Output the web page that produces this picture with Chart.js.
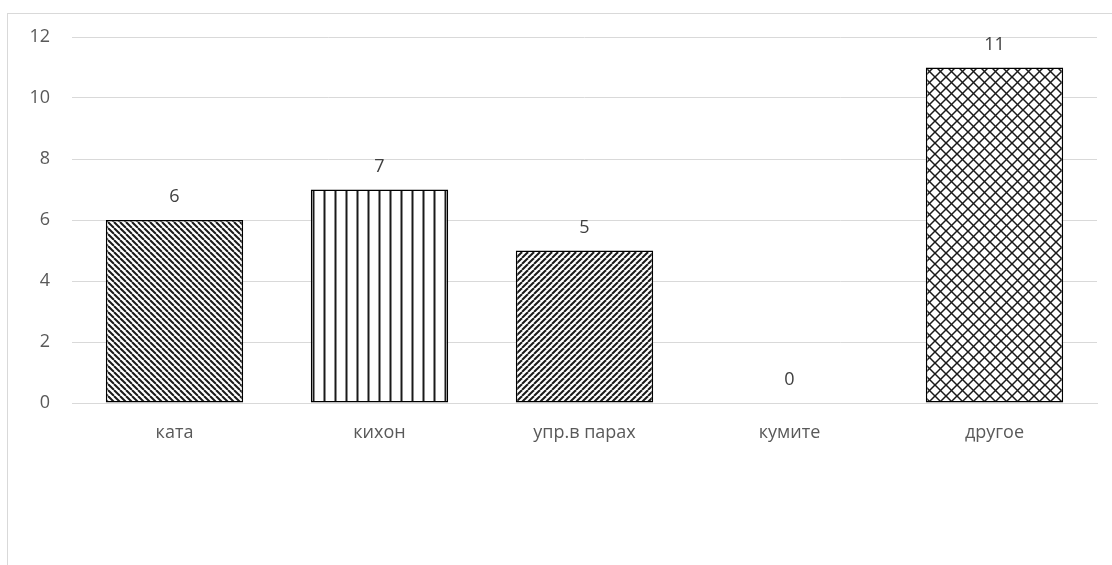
<!DOCTYPE html>
<html>
<head>
<meta charset="utf-8">
<script src="https://cdn.jsdelivr.net/npm/chart.js@4/dist/chart.umd.min.js"></script>
<style>
  html, body { margin: 0; padding: 0; background: #ffffff; }
  #wrap { position: relative; width: 1112px; height: 565px; overflow: hidden; }
  #frame { position: absolute; left: 7px; top: 13px; width: 1200px; height: 700px;
           border-left: 1px solid #d9d9d9; border-top: 1px solid #d9d9d9; }
  canvas { position: absolute; left: 0; top: 0; }
</style>
</head>
<body>
<div id="wrap">
  <div id="frame"></div>
  <canvas id="chart" width="1112" height="565"></canvas>
</div>
<script>
// Categories and values
const categories = ['ката', 'кихон', 'упр.в парах', 'кумите', 'другое'];
const values = [6, 7, 5, 0, 11];
const yTicks = [0, 2, 4, 6, 8, 10, 12];

const FONT = '"Open Sans", Lato, sans-serif';

// Hatch fills for the bars
function makeTile(size, draw) {
  const c = document.createElement('canvas');
  c.width = size; c.height = size;
  const g = c.getContext('2d');
  g.fillStyle = '#ffffff';
  g.fillRect(0, 0, size, size);
  g.strokeStyle = '#1a1a1a';
  draw(g, size);
  return g.createPattern(c, 'repeat');
}
function downLines(g, s) {
  for (const k of [-s, 0, s]) { g.beginPath(); g.moveTo(k, 0); g.lineTo(k + s, s); g.stroke(); }
}
function upLines(g, s) {
  for (const k of [-s, 0, s]) { g.beginPath(); g.moveTo(k, s); g.lineTo(k + s, 0); g.stroke(); }
}
const fills = [
  makeTile(6, (g, s) => { g.lineWidth = 2; downLines(g, s); }),
  makeTile(11, (g, s) => { g.lineWidth = 2; g.beginPath(); g.moveTo(s / 2, 0); g.lineTo(s / 2, s); g.stroke(); }),
  makeTile(6, (g, s) => { g.lineWidth = 2; upLines(g, s); }),
  makeTile(6, (g, s) => { g.lineWidth = 2; upLines(g, s); }),
  makeTile(11, (g, s) => { g.lineWidth = 1.5; downLines(g, s); upLines(g, s); })
];

// Value labels above each bar
const valueLabels = {
  id: 'valueLabels',
  afterDatasetsDraw(chart) {
    const ctx = chart.ctx;
    const meta = chart.getDatasetMeta(0);
    ctx.save();
    ctx.font = '18px ' + FONT;
    ctx.fillStyle = '#404040';
    ctx.textAlign = 'center';
    ctx.textBaseline = 'middle';
    meta.data.forEach((bar, i) => {
      ctx.fillText(String(values[i]), bar.x, bar.y - 23);
    });
    ctx.restore();
  }
};

new Chart(document.getElementById('chart'), {
  type: 'bar',
  data: {
    labels: categories,
    datasets: [{
      data: values,
      backgroundColor: fills,
      borderColor: '#000000',
      borderWidth: values.map(v => v === 0 ? 0 : 1.5),
      borderSkipped: false,
      categoryPercentage: 1,
      barPercentage: 0.67
    }]
  },
  options: {
    responsive: false,
    animation: false,
    devicePixelRatio: 1,
    layout: { padding: { left: 0, right: 15, top: 37, bottom: 0 } },
    plugins: { legend: { display: false }, tooltip: { enabled: false } },
    scales: {
      x: {
        grid: { display: false, drawTicks: false },
        border: { display: true, color: '#d9d9d9', width: 1 },
        ticks: { color: '#595959', padding: 19, font: { family: FONT, size: 18 } },
        afterFit(scale) { scale.height = 162; }
      },
      y: {
        min: 0, max: 12,
        afterBuildTicks(scale) { scale.ticks = yTicks.map(v => ({ value: v })); },
        grid: { color: '#d9d9d9', lineWidth: 1, drawTicks: false },
        border: { display: false },
        ticks: { color: '#595959', padding: 22, font: { family: FONT, size: 18 } },
        afterFit(scale) { scale.width = 72; }
      }
    }
  },
  plugins: [valueLabels]
});
</script>
</body>
</html>
